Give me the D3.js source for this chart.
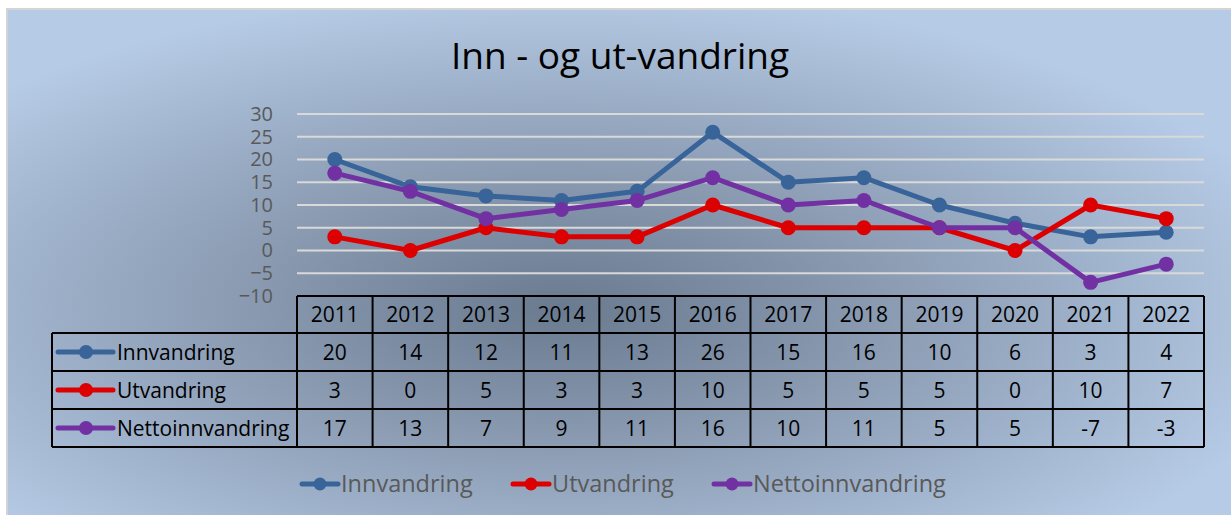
<!DOCTYPE html>
<html lang="no">
<head>
<meta charset="UTF-8">
<title>Inn - og ut-vandring</title>
<script src="https://d3js.org/d3.v7.min.js"></script>
<style>
  body { margin: 0; padding: 0; background: #ffffff; }
  svg text { font-family: "Open Sans", sans-serif; }
</style>
</head>
<body>
<div id="vis"></div>
<script>
// data
const years = ["2011","2012","2013","2014","2015","2016","2017","2018","2019","2020","2021","2022"];
const innvandring = [20, 14, 12, 11, 13, 26, 15, 16, 10, 6, 3, 4];
const utvandring = [3, 0, 5, 3, 3, 10, 5, 5, 5, 0, 10, 7];
const nettoinnvandring = [17, 13, 7, 9, 11, 16, 10, 11, 5, 5, -7, -3];
const yTicks = [30, 25, 20, 15, 10, 5, 0, -5, -10];

const series = [
  { name: "Innvandring", values: innvandring, color: "#386499" },
  { name: "Utvandring", values: utvandring, color: "#dc0000" },
  { name: "Nettoinnvandring", values: nettoinnvandring, color: "#7231a3" }
];

const width = 1231, height = 515;
const svg = d3.select("#vis").append("svg")
  .attr("width", width)
  .attr("height", height);

// background gradient
const defs = svg.append("defs");
const grad = defs.append("radialGradient")
  .attr("id", "bg")
  .attr("cx", "0.45").attr("cy", "0.58")
  .attr("r", "0.62");
grad.append("stop").attr("offset", "0%").attr("stop-color", "#6a7a8f");
grad.append("stop").attr("offset", "45%").attr("stop-color", "#8c9db4");
grad.append("stop").attr("offset", "100%").attr("stop-color", "#b6cbe6");

svg.append("rect")
  .attr("x", 7).attr("y", 9)
  .attr("width", width).attr("height", height)
  .attr("fill", "url(#bg)");
svg.append("path")
  .attr("d", `M7,${height} V9 H${width}`)
  .attr("fill", "none")
  .attr("stroke", "#d4d4d4")
  .attr("stroke-width", 2);

// title
svg.append("text")
  .attr("x", 620).attr("y", 69)
  .attr("text-anchor", "middle")
  .attr("font-size", 37)
  .attr("fill", "#000")
  .text("Inn - og ut-vandring");

const plotLeft = 297, plotRight = 1204;
const x = d3.scaleBand().domain(years).range([plotLeft, plotRight]);
const y = d3.scaleLinear().domain([-10, 30]).range([296, 114]);

// gridlines
svg.append("g").selectAll("line")
  .data(yTicks.filter(d => d > -10))
  .enter().append("line")
  .attr("x1", plotLeft).attr("x2", plotRight)
  .attr("y1", d => y(d)).attr("y2", d => y(d))
  .attr("stroke", "#d9d9d9")
  .attr("stroke-width", 2);

// y axis labels
const yAxis = d3.axisLeft(y).tickValues(yTicks).tickSize(0).tickPadding(0);
const yG = svg.append("g")
  .attr("transform", "translate(273,0)")
  .call(yAxis);
yG.select(".domain").remove();
yG.selectAll("text")
  .attr("font-size", 20)
  .attr("font-family", "'Open Sans', sans-serif")
  .attr("fill", "#595959");

// lines and markers
const line = d3.line()
  .x((d, i) => x(years[i]) + x.bandwidth() / 2)
  .y(d => y(d));

series.forEach(s => {
  svg.append("path")
    .datum(s.values)
    .attr("d", line)
    .attr("fill", "none")
    .attr("stroke", s.color)
    .attr("stroke-width", 5)
    .attr("stroke-linejoin", "round");
  svg.append("g").selectAll("circle")
    .data(s.values)
    .enter().append("circle")
    .attr("cx", (d, i) => x(years[i]) + x.bandwidth() / 2)
    .attr("cy", d => y(d))
    .attr("r", 7.5)
    .attr("fill", s.color);
});

// data table
const tableLeft = 52;
const rowY = [296, 333, 371, 409, 447];
const table = svg.append("g")
  .attr("stroke", "#000")
  .attr("stroke-width", 2)
  .attr("fill", "none");

// header row
table.append("line").attr("x1", plotLeft).attr("x2", plotRight).attr("y1", rowY[0]).attr("y2", rowY[0]);
rowY.slice(1).forEach(ry => {
  table.append("line").attr("x1", tableLeft).attr("x2", plotRight).attr("y1", ry).attr("y2", ry);
});
table.append("line").attr("x1", tableLeft).attr("x2", tableLeft).attr("y1", rowY[1]).attr("y2", rowY[4]);
years.forEach(yr => {
  table.append("line").attr("x1", x(yr)).attr("x2", x(yr)).attr("y1", rowY[0]).attr("y2", rowY[4]);
});
table.append("line").attr("x1", plotRight).attr("x2", plotRight).attr("y1", rowY[0]).attr("y2", rowY[4]);

svg.append("g").selectAll("text")
  .data(years)
  .enter().append("text")
  .attr("x", d => x(d) + x.bandwidth() / 2)
  .attr("y", (rowY[0] + rowY[1]) / 2 + 7.5)
  .attr("text-anchor", "middle")
  .attr("font-size", 21)
  .attr("fill", "#000")
  .text(d => d);

series.forEach((s, si) => {
  const cy = (rowY[si + 1] + rowY[si + 2]) / 2;
  svg.append("line")
    .attr("x1", 58).attr("x2", 113)
    .attr("y1", cy).attr("y2", cy)
    .attr("stroke", s.color).attr("stroke-width", 5)
    .attr("stroke-linecap", "round");
  svg.append("circle")
    .attr("cx", 86).attr("cy", cy).attr("r", 7)
    .attr("fill", s.color);
  svg.append("text")
    .attr("x", 117).attr("y", cy + 7.5)
    .attr("font-size", 21)
    .attr("fill", "#000")
    .text(s.name);
  svg.append("g").selectAll("text")
    .data(s.values)
    .enter().append("text")
    .attr("x", (d, i) => x(years[i]) + x.bandwidth() / 2)
    .attr("y", cy + 7.5)
    .attr("text-anchor", "middle")
    .attr("font-size", 21)
    .attr("fill", "#000")
    .text(d => d);
});

// legend
const legendX = [302, 513, 714];
series.forEach((s, i) => {
  const lg = svg.append("g").attr("transform", `translate(${legendX[i]},484)`);
  lg.append("line")
    .attr("x1", 0).attr("x2", 36)
    .attr("stroke", s.color).attr("stroke-width", 5)
    .attr("stroke-linecap", "round");
  lg.append("circle").attr("cx", 18).attr("r", 6.5).attr("fill", s.color);
  lg.append("text")
    .attr("x", 39).attr("y", 8)
    .attr("font-size", 23.5)
    .attr("fill", "#595959")
    .text(s.name);
});
</script>
</body>
</html>
